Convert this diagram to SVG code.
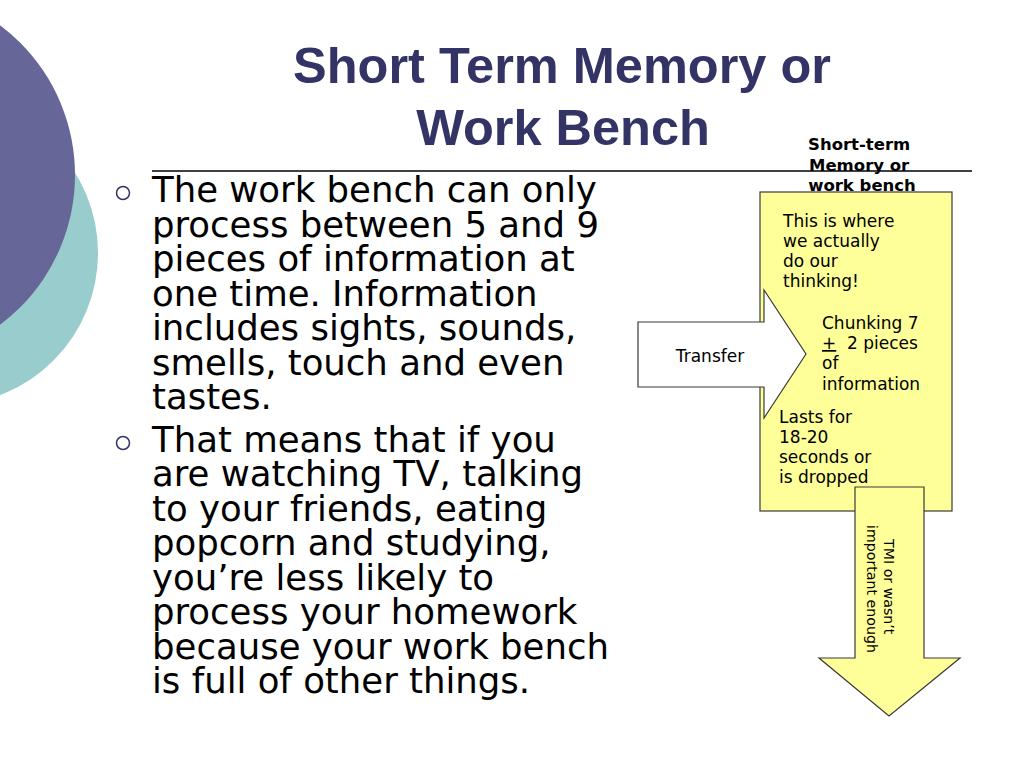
<svg xmlns="http://www.w3.org/2000/svg" width="1024" height="768" viewBox="0 0 1024 768">
<style>
.title{font-family:"Liberation Sans",Arial,sans-serif;font-weight:bold;font-size:50.5px;fill:#333366;text-anchor:middle}
.body{font-family:"DejaVu Sans",Verdana,sans-serif;font-size:35.5px;fill:#000}
.small{font-family:"DejaVu Sans",Verdana,sans-serif;font-size:17px;fill:#000}
.hdr{font-family:"DejaVu Sans",Verdana,sans-serif;font-size:16.5px;font-weight:bold;fill:#000;text-anchor:middle}
.tmi{font-family:"DejaVu Sans",Verdana,sans-serif;font-size:14.2px;fill:#000;text-anchor:middle}
.shape{stroke:#3a3a3a;stroke-width:1.2}
.bullet{fill:none;stroke:#333366;stroke-width:1.5}
</style>
<rect width="1024" height="768" fill="#fff"/>
<g id="decor">
<circle cx="-54" cy="253" r="152" fill="#99CCCC"/>
<circle cx="-112" cy="175" r="187" fill="#666699"/>
</g>
<g id="title">
<text class="title" x="562" y="83">Short Term Memory or</text>
<text class="title" x="563" y="145">Work Bench</text>
<line x1="152" y1="171" x2="972" y2="171" stroke="#000" stroke-width="1.5"/>
</g>
<g id="bullets">
<circle class="bullet" cx="123" cy="193" r="6.5"/>
<circle class="bullet" cx="123" cy="443" r="6.5"/>
<text class="body" x="152">
<tspan x="152" y="202">The work bench can only</tspan>
<tspan x="152" y="237">process between 5 and 9</tspan>
<tspan x="152" y="271">pieces of information at</tspan>
<tspan x="152" y="306">one time. Information</tspan>
<tspan x="152" y="340">includes sights, sounds,</tspan>
<tspan x="152" y="375">smells, touch and even</tspan>
<tspan x="152" y="409">tastes.</tspan>
</text>
<text class="body" x="152">
<tspan x="152" y="452">That means that if you</tspan>
<tspan x="152" y="486">are watching TV, talking</tspan>
<tspan x="152" y="521">to your friends, eating</tspan>
<tspan x="152" y="555">popcorn and studying,</tspan>
<tspan x="152" y="590">you’re less likely to</tspan>
<tspan x="152" y="624">process your homework</tspan>
<tspan x="152" y="659">because your work bench</tspan>
<tspan x="152" y="693">is full of other things.</tspan>
</text>
</g>
<g id="stm-box">
<rect class="shape" x="760" y="192" width="192" height="319" fill="#FFFF99"/>
<text class="hdr">
<tspan x="862" y="150">Short-term</tspan>
<tspan x="862" y="171">Memory or</tspan>
<tspan x="862" y="191">work bench</tspan>
</text>
<text class="small">
<tspan x="783" y="227">This is where</tspan>
<tspan x="783" y="247">we actually</tspan>
<tspan x="783" y="267">do our</tspan>
<tspan x="783" y="287">thinking!</tspan>
</text>
<text class="small">
<tspan x="779" y="423">Lasts for</tspan>
<tspan x="779" y="443">18-20</tspan>
<tspan x="779" y="463">seconds or</tspan>
<tspan x="779" y="483">is dropped</tspan>
</text>
</g>
<g id="connectors">
<g id="transfer-arrow">
<polygon class="shape" fill="#fff" points="638,322 764,322 764,290 806,354 764,418 764,387 638,387"/>
<text class="small" x="710" y="362" text-anchor="middle">Transfer</text>
</g>
<g id="drop-arrow">
<polygon class="shape" fill="#FFFF99" points="855,487 924,487 924,658 960,658 889,716 819,658 855,658"/>
<text class="tmi" transform="translate(884,589) rotate(90)">
<tspan x="0" y="0">TMI or wasn’t</tspan>
<tspan x="0" y="17">important enough</tspan>
</text>
</g>
</g>
<g id="chunking">
<text class="small">
<tspan x="822" y="329">Chunking 7</tspan>
<tspan x="822" y="349"><tspan text-decoration="underline">+</tspan>&#160; 2 pieces</tspan>
<tspan x="822" y="369">of</tspan>
<tspan x="822" y="390">information</tspan>
</text>
</g>
</svg>
